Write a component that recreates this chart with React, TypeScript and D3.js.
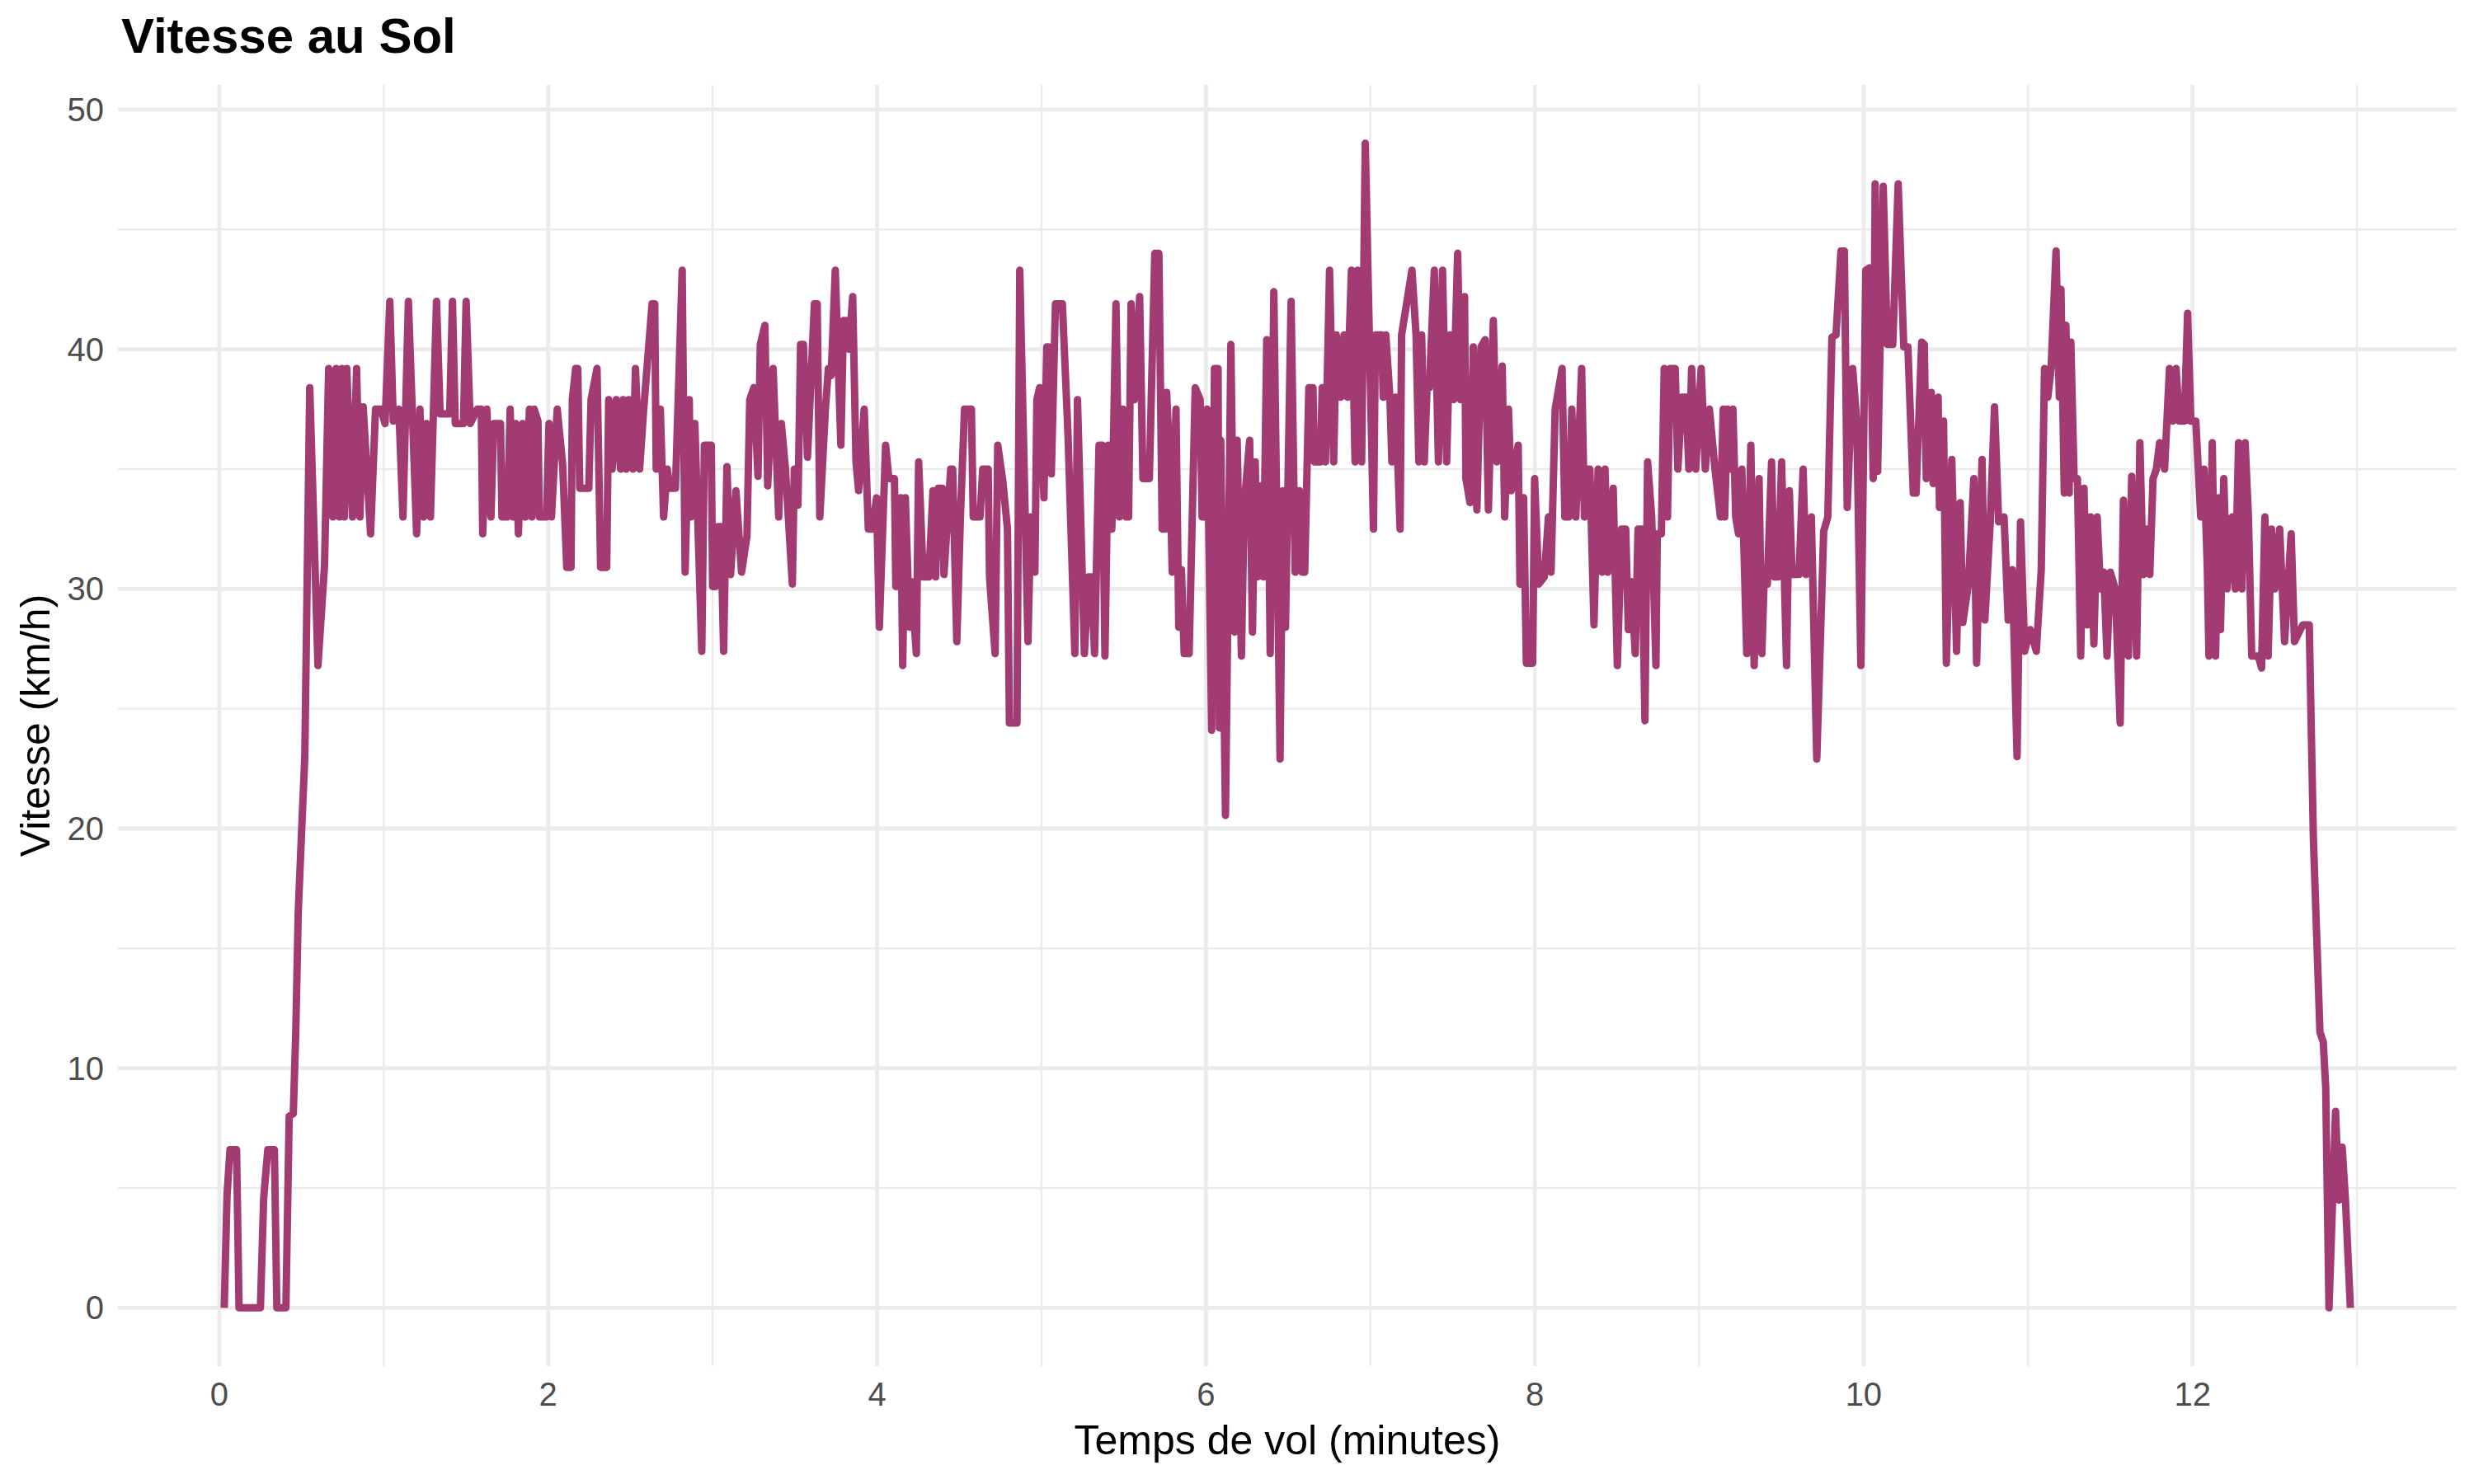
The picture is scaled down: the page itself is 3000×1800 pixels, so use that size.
import React from "react";
import * as d3 from "d3";

// ---- data: flight time (minutes) and ground speed (km/h) ----
const flightTime: number[] = [
  0.03, 0.047, 0.065, 0.105, 0.12, 0.25, 0.27, 0.295, 0.335, 0.35, 0.405, 0.425, 0.45, 0.465, 0.48, 0.5, 0.52, 0.55, 0.6, 0.64,
  0.665, 0.69, 0.71, 0.73, 0.745, 0.76, 0.775, 0.81, 0.835, 0.855, 0.875, 0.92,
  0.95, 0.983, 1.008, 1.037, 1.058, 1.092, 1.117, 1.15, 1.2, 1.22, 1.242, 1.259, 1.284, 1.321, 1.343, 1.401, 1.418, 1.435, 1.485, 1.501,
  1.526, 1.568, 1.593, 1.602, 1.627, 1.652, 1.669, 1.71, 1.719, 1.752, 1.769, 1.786, 1.802, 1.819, 1.844, 1.861, 1.886,
  1.9, 1.915, 1.938, 1.946, 1.99, 2.005, 2.02, 2.055, 2.088, 2.113, 2.139, 2.147, 2.167, 2.18, 2.192, 2.247, 2.261, 2.297, 2.319, 2.356,
  2.368, 2.389, 2.414, 2.44, 2.456, 2.473, 2.49, 2.515, 2.531, 2.556, 2.581, 2.632, 2.648, 2.657, 2.682, 2.702, 2.724, 2.74, 2.774, 2.815,
  2.833, 2.858, 2.867, 2.892, 2.934, 2.95, 2.992, 3.0, 3.017, 3.034, 3.05, 3.067, 3.087, 3.109, 3.142, 3.176, 3.209, 3.226, 3.251, 3.276,
  3.29, 3.318, 3.335, 3.368, 3.402, 3.418, 3.443, 3.485, 3.497, 3.519, 3.535, 3.552, 3.577, 3.619, 3.636, 3.652, 3.686, 3.704,
  3.721, 3.746, 3.78, 3.796, 3.813, 3.83, 3.852, 3.872, 3.888, 3.922, 3.947, 3.972, 3.997, 4.014, 4.052, 4.072, 4.106, 4.114, 4.144, 4.156,
  4.172, 4.198, 4.209, 4.239, 4.253, 4.281, 4.315, 4.34, 4.356, 4.373, 4.398, 4.407, 4.448, 4.46, 4.485, 4.507, 4.532, 4.574, 4.585,
  4.626, 4.643, 4.676, 4.684, 4.718, 4.734, 4.765, 4.793, 4.805, 4.851, 4.868, 4.918, 4.935, 4.96, 4.972, 4.989, 5.015, 5.032, 5.044, 5.06,
  5.085, 5.127, 5.161, 5.203, 5.219, 5.261, 5.286, 5.303, 5.323, 5.35, 5.37, 5.386, 5.406, 5.428, 5.453, 5.473, 5.495, 5.514, 5.53, 5.545,
  5.564, 5.597, 5.617, 5.656, 5.689, 5.714, 5.734, 5.756, 5.761, 5.781, 5.795, 5.818, 5.835, 5.851, 5.868, 5.898, 5.935, 5.965, 5.977, 5.998,
  6.007, 6.035, 6.052, 6.074, 6.082, 6.09, 6.119, 6.152, 6.174, 6.19, 6.216, 6.233, 6.266, 6.283, 6.3, 6.311, 6.333, 6.35, 6.37, 6.391, 6.413,
  6.451, 6.468, 6.484, 6.518, 6.543, 6.568, 6.585, 6.601, 6.626, 6.651, 6.66, 6.697, 6.707, 6.727, 6.752, 6.777, 6.793, 6.819, 6.84, 6.86,
  6.885, 6.907, 6.922, 6.947, 6.969, 7.019, 7.031, 7.069, 7.078, 7.094, 7.119, 7.131, 7.153, 7.181, 7.19, 7.253, 7.278, 7.295, 7.312, 7.328, 7.345,
  7.359, 7.389, 7.414, 7.439, 7.464, 7.484, 7.506, 7.531, 7.548, 7.573, 7.581, 7.606, 7.626, 7.648, 7.673, 7.698, 7.718, 7.748, 7.768, 7.802,
  7.817, 7.84, 7.857, 7.899, 7.91, 7.932, 7.949, 7.987, 7.999, 8.024, 8.058, 8.083, 8.099, 8.124, 8.166, 8.183, 8.208, 8.225, 8.25,
  8.285, 8.302, 8.322, 8.335, 8.36, 8.385, 8.41, 8.427, 8.444, 8.477, 8.502, 8.528, 8.553, 8.569, 8.586, 8.611, 8.628, 8.65, 8.67, 8.686,
  8.711, 8.737, 8.745, 8.77, 8.787, 8.807, 8.823, 8.854, 8.87, 8.895, 8.92, 8.937, 8.954, 8.979, 9.012, 9.037, 9.062, 9.096, 9.129, 9.146,
  9.155, 9.172, 9.189, 9.205, 9.222, 9.239, 9.259, 9.289, 9.314, 9.334, 9.364, 9.381, 9.394, 9.414, 9.44, 9.456, 9.481, 9.501, 9.531, 9.548,
  9.565, 9.607, 9.632, 9.649, 9.682, 9.715, 9.757, 9.782, 9.807, 9.832, 9.862, 9.883, 9.9, 9.933, 9.958, 9.983, 10.013, 10.036, 10.058, 10.07,
  10.085, 10.119, 10.144, 10.177, 10.21, 10.244, 10.269, 10.302, 10.319, 10.353, 10.369, 10.381, 10.411, 10.423, 10.453, 10.461, 10.486, 10.503,
  10.536, 10.565, 10.587, 10.603, 10.637, 10.67, 10.687, 10.72, 10.737, 10.77, 10.796, 10.821, 10.854, 10.879, 10.904, 10.933, 10.954, 10.979, 11.013,
  11.05, 11.08, 11.1, 11.12, 11.14, 11.17, 11.19, 11.2, 11.22, 11.23, 11.25, 11.26, 11.28, 11.3, 11.32, 11.34, 11.36, 11.38, 11.4, 11.42,
  11.44, 11.46, 11.48, 11.5, 11.53, 11.56, 11.58, 11.61, 11.63, 11.66, 11.68, 11.7, 11.72, 11.74, 11.76, 11.78, 11.8, 11.83, 11.86, 11.88,
  11.9, 11.92, 11.95, 11.97, 11.99, 12.02, 12.05, 12.07, 12.09, 12.1, 12.12, 12.14, 12.16, 12.17, 12.19, 12.21, 12.24, 12.26, 12.28, 12.3,
  12.32, 12.34, 12.36, 12.4, 12.42, 12.44, 12.46, 12.48, 12.5, 12.53, 12.56, 12.6, 12.62, 12.67, 12.71, 12.735, 12.775, 12.795, 12.81, 12.83,
  12.87, 12.89, 12.91, 12.93, 12.96
];

const groundSpeed: number[] = [
  0, 4.7, 6.6, 6.6, 0, 0, 4.6, 6.6, 6.6, 0, 0, 8.0, 8.1, 11.5, 16.5, 19.8, 23.0, 38.4, 26.8, 31.0,
  39.2, 33.0, 39.2, 33.0, 39.2, 33.0, 39.2, 33.0, 39.2, 33.0, 37.6, 32.3,
  37.5, 37.5, 36.9, 42.0, 37.0, 37.5, 33.0, 42.0, 32.3, 37.5, 33.0, 36.9, 33.0, 42.0, 37.3, 37.3, 42.0, 36.9, 36.9, 42.0,
  36.9, 37.5, 37.5, 32.3, 37.5, 33.0, 36.9, 36.9, 33.0, 33.0, 37.5, 33.0, 36.9, 32.3, 36.9, 33.0, 37.5,
  33.0, 37.5, 37.0, 33.0, 33.0, 36.9, 33.0, 37.5, 35.2, 30.9, 30.9, 37.9, 39.2, 39.2, 34.2, 34.2, 37.9, 39.2, 30.9, 30.9,
  37.9, 35.0, 37.9, 35.0, 37.9, 35.0, 37.9, 35.0, 39.2, 35.0, 37.5, 41.9, 41.9, 35.0, 37.5, 33.0, 35.0, 34.2, 34.2, 43.3,
  30.7, 37.9, 33.0, 36.9, 27.4, 36.0, 36.0, 30.1, 30.1, 32.6, 32.6, 27.4, 35.1, 30.6, 34.1, 30.7, 32.2, 37.9, 38.4, 34.7,
  40.2, 41.0, 34.3, 39.2, 33.0, 36.9, 35.0, 30.2, 35.0, 33.5, 40.2, 40.2, 35.5, 41.9, 41.9, 33.0, 37.5, 39.2,
  38.9, 43.3, 36.0, 41.2, 41.2, 40.0, 42.2, 35.3, 34.1, 37.5, 32.5, 32.5, 33.8, 28.4, 36.0, 34.6, 34.6, 30.1, 33.8, 26.8,
  33.8, 28.4, 30.3, 27.3, 35.3, 30.5, 30.5, 34.1, 30.5, 34.2, 34.2, 30.6, 35.0, 35.0, 27.8, 33.0, 37.5, 37.5, 33.0,
  33.0, 35.0, 35.0, 30.5, 27.3, 36.0, 34.5, 32.5, 24.4, 24.4, 43.3, 27.8, 33.0, 30.7, 37.9, 38.4, 33.8, 40.1, 40.1, 34.8,
  41.9, 41.9, 36.5, 27.3, 37.9, 27.3, 30.5, 30.5, 27.3, 36.0, 36.0, 27.2, 36.0, 32.5, 41.9, 33.0, 37.5, 33.0, 33.0, 41.9,
  37.9, 42.2, 34.6, 34.6, 44.0, 44.0, 32.5, 32.5, 38.2, 35.3, 30.7, 37.5, 28.4, 30.8, 27.3, 27.3, 38.4, 37.9, 33.0, 33.0,
  37.5, 24.1, 39.2, 39.2, 24.2, 36.2, 20.55, 40.2, 28.2, 36.2, 27.2, 33.5, 36.2, 28.2, 35.3, 30.5, 34.3, 30.5, 40.4, 27.3, 42.4,
  22.9, 34.1, 28.4, 42.0, 30.7, 34.1, 30.7, 30.7, 38.4, 38.4, 35.3, 35.3, 38.4, 35.3, 43.3, 35.3, 40.6, 38.0, 40.6, 38.0,
  43.3, 35.3, 43.3, 35.3, 48.6, 32.5, 40.6, 40.6, 38.0, 40.6, 38.0, 35.3, 38.0, 32.5, 40.6, 43.3, 40.6, 35.3, 40.6, 35.3, 38.4,
  38.4, 43.3, 35.3, 43.3, 35.3, 40.6, 37.9, 44.0, 37.9, 42.2, 34.6, 33.6, 40.1, 33.3, 40.1, 40.4, 33.3, 41.2, 35.3, 39.3,
  33.0, 37.5, 34.1, 36.0, 30.2, 33.8, 26.9, 26.9, 34.6, 30.2, 30.5, 33.0, 30.7, 37.5, 39.2, 33.0, 33.0, 37.5, 33.0,
  39.2, 33.0, 35.0, 35.0, 28.5, 35.0, 30.7, 35.0, 30.7, 34.2, 26.8, 32.5, 32.5, 28.3, 30.3, 27.3, 32.5, 32.5, 24.5, 35.3,
  33.0, 26.8, 32.3, 32.3, 39.2, 33.0, 39.2, 39.2, 35.0, 38.0, 38.0, 35.0, 39.2, 35.0, 39.2, 35.0, 37.5, 35.0, 33.0, 37.5,
  33.0, 37.5, 35.0, 37.5, 33.0, 32.3, 35.0, 27.3, 36.0, 26.8, 34.6, 27.3, 30.2, 30.2, 35.3, 30.5, 30.5, 35.3, 26.8, 34.1,
  30.6, 30.6, 35.0, 30.6, 33.0, 22.9, 32.4, 33.0, 40.5, 40.6, 44.1, 44.1, 33.4, 39.2, 37.0, 26.8, 43.3, 43.4, 34.6, 46.9,
  34.9, 46.8, 40.2, 40.2, 46.9, 40.1, 40.1, 34.0, 34.0, 40.3, 40.2, 34.6, 38.2, 34.4, 38.0, 33.4, 37.0, 26.9,
  35.4, 27.4, 33.6, 28.6, 30.2, 34.6, 26.9, 35.4, 28.7, 32.8, 37.6, 32.8, 33.0, 28.7, 30.8, 23.0, 32.8, 27.4, 28.3,
  27.4, 30.8, 39.2, 38.0, 39.2, 44.1, 38.0, 42.5, 34.0, 41.0, 34.0, 40.3, 34.6, 34.6, 27.2, 34.2, 28.5, 33.0, 27.7, 33.0,
  30.0, 30.7, 27.2, 30.7, 30.0, 24.4, 33.7, 27.2, 34.7, 27.2, 36.1, 30.6, 32.5, 30.6, 34.6, 35.0, 36.1, 35.0, 39.2, 37.0,
  39.2, 37.0, 37.0, 41.5, 37.0, 37.0, 33.0, 35.0, 30.9, 27.2, 36.1, 27.2, 33.8, 28.3, 34.6, 30.0, 33.0, 30.0, 36.1, 30.0,
  36.1, 33.0, 27.2, 27.2, 26.7, 33.0, 27.2, 32.5, 30.0, 32.5, 27.8, 32.3, 27.8, 28.5, 28.5, 19.6, 11.5, 11.1, 9.2, 0,
  8.2, 4.5, 6.7, 4.5, 0
];

const yTickValues: number[] = [0, 10, 20, 30, 40, 50];
const xTickValues: number[] = [0, 2, 4, 6, 8, 10, 12];

const titleText = "Vitesse au Sol";
const xAxisTitle = "Temps de vol (minutes)";
const yAxisTitle = "Vitesse (km/h)";

const W = 3000;
const H = 1800;
const panel = { left: 143, right: 2979, top: 103, bottom: 1657 };
const FONT = "'Liberation Sans', Arial, Helvetica, sans-serif";
const LINE_COLOR = "#A23B72";
const GRID = "#EBEBEB";

export default function App() {
  const points = flightTime.map((t, i) => ({ t, v: groundSpeed[i] }));
  const [tMin, tMax] = d3.extent(flightTime) as [number, number];
  const tPad = (tMax - tMin) * 0.05;
  const vMin = Math.min(0, d3.min(groundSpeed) as number);
  const vMax = d3.max(groundSpeed) as number;
  const vPad = (vMax - vMin) * 0.05;

  const x = d3.scaleLinear().domain([tMin - tPad, tMax + tPad]).range([panel.left, panel.right]);
  const y = d3.scaleLinear().domain([vMin - vPad, vMax + vPad]).range([panel.bottom, panel.top]);

  const xStep = xTickValues[1] - xTickValues[0];
  const yStep = yTickValues[1] - yTickValues[0];
  const [xd0, xd1] = x.domain();
  const [yd0, yd1] = y.domain();
  const xMinor = d3.range(xTickValues[0] - xStep / 2, xTickValues[xTickValues.length - 1] + xStep, xStep).filter((v) => v >= xd0 && v <= xd1);
  const yMinor = d3.range(yTickValues[0] - yStep / 2, yTickValues[yTickValues.length - 1] + yStep, yStep).filter((v) => v >= yd0 && v <= yd1);

  const line = d3
    .line<{ t: number; v: number }>()
    .x((d) => x(d.t))
    .y((d) => y(d.v));

  const midX = (panel.left + panel.right) / 2;
  const midY = (panel.top + panel.bottom) / 2;

  return (
    <svg
      width={W}
      height={H}
      viewBox={`0 0 ${W} ${H}`}
      style={{ position: "absolute", left: 0, top: 0, display: "block" }}
      fontFamily={FONT}
    >
      <rect x={0} y={0} width={W} height={H} fill="#FFFFFF" />
      {/* minor grid */}
      {yMinor.map((v) => (
        <line key={`ym${v}`} x1={panel.left} x2={panel.right} y1={y(v)} y2={y(v)} stroke={GRID} strokeWidth={2.4} />
      ))}
      {xMinor.map((v) => (
        <line key={`xm${v}`} x1={x(v)} x2={x(v)} y1={panel.top} y2={panel.bottom} stroke={GRID} strokeWidth={2.4} />
      ))}
      {/* major grid */}
      {yTickValues.map((v) => (
        <line key={`yM${v}`} x1={panel.left} x2={panel.right} y1={y(v)} y2={y(v)} stroke={GRID} strokeWidth={4.8} />
      ))}
      {xTickValues.map((v) => (
        <line key={`xM${v}`} x1={x(v)} x2={x(v)} y1={panel.top} y2={panel.bottom} stroke={GRID} strokeWidth={4.8} />
      ))}
      {/* data line */}
      <path
        d={line(points) || ""}
        fill="none"
        stroke={LINE_COLOR}
        strokeWidth={9}
        strokeLinejoin="round"
        strokeLinecap="butt"
      />
      {/* tick labels */}
      {yTickValues.map((v) => (
        <text key={`yt${v}`} x={panel.left - 17} y={y(v)} dy="0.35em" textAnchor="end" fontSize={40} fill="#4D4D4D">
          {v}
        </text>
      ))}
      {xTickValues.map((v) => (
        <text key={`xt${v}`} x={x(v)} y={1705} textAnchor="middle" fontSize={40} fill="#4D4D4D">
          {v}
        </text>
      ))}
      {/* axis titles */}
      <text x={midX} y={1764} textAnchor="middle" fontSize={50} fill="#000000">
        {xAxisTitle}
      </text>
      <text x={60} y={midY} textAnchor="middle" fontSize={50} fill="#000000" transform={`rotate(-90, 60, ${midY})`}>
        {yAxisTitle}
      </text>
      {/* title */}
      <text x={panel.left + 4} y={64} fontSize={60} fontWeight="bold" fill="#000000">
        {titleText}
      </text>
    </svg>
  );
}
